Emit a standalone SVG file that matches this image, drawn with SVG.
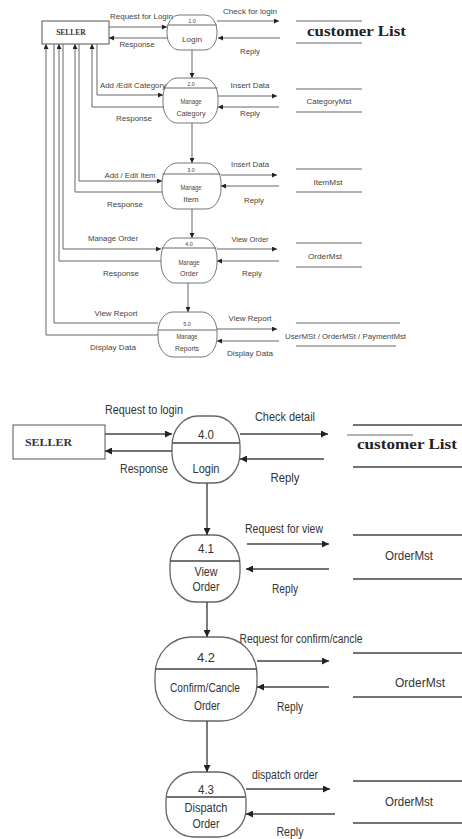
<svg xmlns="http://www.w3.org/2000/svg" width="462" height="839" viewBox="0 0 462 839">
<style>
.bg{fill:#fff}
.box{fill:#fff;stroke:#555;stroke-width:1}
.proc{fill:#fff;stroke:#777;stroke-width:1}
.proc2{fill:#fff;stroke:#666;stroke-width:1.3}
.ln{fill:none;stroke:#666;stroke-width:1}
.ln2{fill:none;stroke:#444;stroke-width:1.4}
.st{fill:none;stroke:#666;stroke-width:1.2}
.st2{fill:none;stroke:#444;stroke-width:1.4}
.t{font-family:"Liberation Sans",Arial,sans-serif;font-size:8px;fill:#444;text-anchor:middle}
.n{font-family:"Liberation Sans",Arial,sans-serif;font-size:5.5px;fill:#444;text-anchor:middle}
.t2{font-family:"Liberation Sans",Arial,sans-serif;font-size:12.5px;fill:#333;text-anchor:middle}
.n2{font-family:"Liberation Sans",Arial,sans-serif;font-size:13px;fill:#333;text-anchor:middle}
.sel{font-family:"Liberation Serif","Times New Roman",serif;font-weight:bold;fill:#333}
.cl{font-family:"Liberation Serif","Times New Roman",serif;font-weight:bold;font-size:15px;fill:#222}
</style>
<defs>
<marker id="a" viewBox="0 0 10 10" refX="10" refY="5" markerWidth="5" markerHeight="5" orient="auto" markerUnits="userSpaceOnUse"><path d="M0,0 L10,5 L0,10 z" fill="#222"/></marker>
<marker id="b" viewBox="0 0 10 10" refX="10" refY="5" markerWidth="8" markerHeight="7" orient="auto" markerUnits="userSpaceOnUse"><path d="M0,0 L10,5 L0,10 z" fill="#222"/></marker>
</defs>
<rect class="bg" x="0" y="0" width="462" height="839"/>

<!-- ============ TOP DIAGRAM ============ -->
<g id="seller1">
<rect class="box" x="42" y="21" width="67" height="23"/>
<text class="sel" x="71" y="34.5" font-size="7.5" text-anchor="middle">SELLER</text>
</g>
<g id="p1_0">
<rect class="proc" x="167" y="15" width="50" height="35" rx="12" ry="16"/>
<line class="ln" x1="167.5" y1="25" x2="216.5" y2="25"/>
<text class="n" x="192" y="22.5">1.0</text>
<text class="t" x="192" y="42" textLength="20" lengthAdjust="spacingAndGlyphs">Login</text>
</g>
<g id="p2_0">
<rect class="proc" x="163" y="78" width="55" height="45" rx="14" ry="20"/>
<line class="ln" x1="163.5" y1="88" x2="217.5" y2="88"/>
<text class="n" x="191" y="86">2.0</text>
<text class="t" x="191" y="104" textLength="21" lengthAdjust="spacingAndGlyphs">Manage</text>
<text class="t" x="191" y="116" textLength="29" lengthAdjust="spacingAndGlyphs">Category</text>
</g>
<g id="p3_0">
<rect class="proc" x="162" y="163" width="59" height="46" rx="15" ry="20"/>
<line class="ln" x1="162.5" y1="174" x2="220.5" y2="174"/>
<text class="n" x="191" y="171.5">3.0</text>
<text class="t" x="191" y="190" textLength="21" lengthAdjust="spacingAndGlyphs">Manage</text>
<text class="t" x="191" y="202">Item</text>
</g>
<g id="p4_0">
<rect class="proc" x="161" y="238" width="56" height="45" rx="14" ry="20"/>
<line class="ln" x1="161.5" y1="248" x2="216.5" y2="248"/>
<text class="n" x="189" y="246">4.0</text>
<text class="t" x="189" y="265" textLength="21" lengthAdjust="spacingAndGlyphs">Manage</text>
<text class="t" x="189" y="276" textLength="18" lengthAdjust="spacingAndGlyphs">Order</text>
</g>
<g id="p5_0">
<rect class="proc" x="158" y="312" width="59" height="45" rx="15" ry="20"/>
<line class="ln" x1="158.5" y1="330" x2="216.5" y2="330"/>
<text class="n" x="187" y="326">5.0</text>
<text class="t" x="187" y="339" textLength="21" lengthAdjust="spacingAndGlyphs">Manage</text>
<text class="t" x="187" y="351" textLength="24" lengthAdjust="spacingAndGlyphs">Reports</text>
</g>

<g id="stores1">
<line class="st" x1="296" y1="21" x2="362" y2="21"/>
<line class="st" x1="296" y1="43" x2="362" y2="43"/>
<text class="cl" x="307" y="35.5" textLength="99" lengthAdjust="spacingAndGlyphs">customer List</text>
<line class="st" x1="296" y1="89" x2="362" y2="89"/>
<line class="st" x1="296" y1="112" x2="362" y2="112"/>
<text class="t" x="329" y="104" textLength="45" lengthAdjust="spacingAndGlyphs">CategoryMst</text>
<line class="st" x1="296" y1="169" x2="362" y2="169"/>
<line class="st" x1="296" y1="192" x2="362" y2="192"/>
<text class="t" x="328" y="185" textLength="29" lengthAdjust="spacingAndGlyphs">ItemMst</text>
<line class="st" x1="296" y1="243" x2="362" y2="243"/>
<line class="st" x1="296" y1="267" x2="362" y2="267"/>
<text class="t" x="325" y="259" textLength="34" lengthAdjust="spacingAndGlyphs">OrderMst</text>
<line class="st" x1="296" y1="323" x2="400" y2="323"/>
<line class="st" x1="296" y1="346" x2="396" y2="346"/>
<text class="t" x="345.5" y="339" textLength="121" lengthAdjust="spacingAndGlyphs">UserMSt / OrderMSt / PaymentMst</text>
</g>

<g id="connectors1">
<path class="ln" d="M109,27 H167" marker-end="url(#a)"/>
<path class="ln" d="M167,38 H109" marker-end="url(#a)"/>
<path class="ln" d="M217,21 H279" marker-end="url(#a)"/>
<path class="ln" d="M280,38 H218" marker-end="url(#a)"/>
<path class="ln" d="M192,50 V78" marker-end="url(#a)"/>
<path class="ln" d="M97,44 V95 H163" marker-end="url(#a)"/>
<path class="ln" d="M164,107 H92 V44" marker-end="url(#a)"/>
<path class="ln" d="M218,96 H277" marker-end="url(#a)"/>
<path class="ln" d="M279,107 H218" marker-end="url(#a)"/>
<path class="ln" d="M192,123 V163" marker-end="url(#a)"/>
<path class="ln" d="M79,44 V181 H162" marker-end="url(#a)"/>
<path class="ln" d="M162,192 H75 V44" marker-end="url(#a)"/>
<path class="ln" d="M221,175 H277" marker-end="url(#a)"/>
<path class="ln" d="M279,186 H221" marker-end="url(#a)"/>
<path class="ln" d="M192,209 V238" marker-end="url(#a)"/>
<path class="ln" d="M63,44 V249 H161" marker-end="url(#a)"/>
<path class="ln" d="M161,261 H59 V44" marker-end="url(#a)"/>
<path class="ln" d="M217,249 H277" marker-end="url(#a)"/>
<path class="ln" d="M279,261 H217" marker-end="url(#a)"/>
<path class="ln" d="M188,283 V312" marker-end="url(#a)"/>
<path class="ln" d="M54,44 V323 H158"/>
<path class="ln" d="M158,335 H46 V44" marker-end="url(#a)"/>
<path class="ln" d="M217,329 H277" marker-end="url(#a)"/>
<path class="ln" d="M279,341 H217" marker-end="url(#a)"/>
<text class="t" x="141.5" y="19" textLength="63" lengthAdjust="spacingAndGlyphs">Request for Login</text>
<text class="t" x="137" y="47" textLength="35" lengthAdjust="spacingAndGlyphs">Response</text>
<text class="t" x="250" y="14" textLength="54" lengthAdjust="spacingAndGlyphs">Check for login</text>
<text class="t" x="250" y="54" textLength="20" lengthAdjust="spacingAndGlyphs">Reply</text>
<text class="t" x="133" y="88" textLength="66" lengthAdjust="spacingAndGlyphs">Add /Edit Category</text>
<text class="t" x="134" y="121" textLength="36" lengthAdjust="spacingAndGlyphs">Response</text>
<text class="t" x="250" y="88" textLength="39" lengthAdjust="spacingAndGlyphs">Insert Data</text>
<text class="t" x="250" y="116" textLength="20" lengthAdjust="spacingAndGlyphs">Reply</text>
<text class="t" x="130" y="178" textLength="51" lengthAdjust="spacingAndGlyphs">Add / Edit Item</text>
<text class="t" x="125" y="207" textLength="36" lengthAdjust="spacingAndGlyphs">Response</text>
<text class="t" x="250" y="167" textLength="38" lengthAdjust="spacingAndGlyphs">Insert Data</text>
<text class="t" x="254" y="203" textLength="20" lengthAdjust="spacingAndGlyphs">Reply</text>
<text class="t" x="113" y="241" textLength="50" lengthAdjust="spacingAndGlyphs">Manage Order</text>
<text class="t" x="121" y="276" textLength="36" lengthAdjust="spacingAndGlyphs">Response</text>
<text class="t" x="250" y="242" textLength="37" lengthAdjust="spacingAndGlyphs">View Order</text>
<text class="t" x="252" y="276" textLength="20" lengthAdjust="spacingAndGlyphs">Reply</text>
<text class="t" x="116" y="316" textLength="43" lengthAdjust="spacingAndGlyphs">View Report</text>
<text class="t" x="113" y="350" textLength="46" lengthAdjust="spacingAndGlyphs">Display Data</text>
<text class="t" x="250" y="321" textLength="43" lengthAdjust="spacingAndGlyphs">View Report</text>
<text class="t" x="250" y="356" textLength="46" lengthAdjust="spacingAndGlyphs">Display Data</text>
</g>

<!-- ============ BOTTOM DIAGRAM ============ -->
<g id="seller2">
<rect class="box" x="13" y="425" width="92" height="34" stroke-width="1.3"/>
<text class="sel" x="25" y="446" font-size="10" textLength="47" lengthAdjust="spacingAndGlyphs">SELLER</text>
</g>
<g id="p4_0b">
<rect class="proc2" x="172" y="416" width="68" height="67" rx="26" ry="30"/>
<line class="ln2" x1="172.5" y1="443" x2="239.5" y2="443"/>
<text class="n2" x="206" y="439" textLength="16" lengthAdjust="spacingAndGlyphs">4.0</text>
<text class="t2" x="206" y="473" textLength="27" lengthAdjust="spacingAndGlyphs">Login</text>
</g>
<g id="p4_1">
<rect class="proc2" x="170" y="535" width="70" height="67" rx="26" ry="30"/>
<line class="ln2" x1="170.5" y1="561" x2="239.5" y2="561"/>
<text class="n2" x="206" y="553" textLength="16" lengthAdjust="spacingAndGlyphs">4.1</text>
<text class="t2" x="206" y="576" textLength="23" lengthAdjust="spacingAndGlyphs">View</text>
<text class="t2" x="206" y="591" textLength="27" lengthAdjust="spacingAndGlyphs">Order</text>
</g>
<g id="p4_2">
<rect class="proc2" x="155" y="637" width="102" height="84" rx="36" ry="38"/>
<line class="ln2" x1="155.5" y1="669" x2="256.5" y2="669"/>
<text class="n2" x="206" y="662" font-size="14" textLength="18" lengthAdjust="spacingAndGlyphs">4.2</text>
<text class="t2" x="205" y="692" textLength="70" lengthAdjust="spacingAndGlyphs">Confirm/Cancle</text>
<text class="t2" x="207" y="710" textLength="26" lengthAdjust="spacingAndGlyphs">Order</text>
</g>
<g id="p4_3">
<rect class="proc2" x="166" y="772" width="80" height="65" rx="28" ry="28"/>
<line class="ln2" x1="166.5" y1="797" x2="245.5" y2="797"/>
<text class="n2" x="206" y="794" textLength="16" lengthAdjust="spacingAndGlyphs">4.3</text>
<text class="t2" x="206" y="812" textLength="43" lengthAdjust="spacingAndGlyphs">Dispatch</text>
<text class="t2" x="206" y="828" textLength="27" lengthAdjust="spacingAndGlyphs">Order</text>
</g>

<g id="stores2">
<line class="st2" x1="353" y1="425" x2="462" y2="425"/>
<line class="st" x1="347" y1="435" x2="413" y2="435" stroke="#999"/>
<line class="st2" x1="353" y1="467" x2="462" y2="467"/>
<text class="cl" x="357" y="449" textLength="100" lengthAdjust="spacingAndGlyphs">customer List</text>
<line class="st2" x1="353" y1="535" x2="462" y2="535"/>
<line class="st2" x1="353" y1="579" x2="462" y2="579"/>
<text class="t2" x="409" y="560" font-size="13" textLength="48" lengthAdjust="spacingAndGlyphs">OrderMst</text>
<line class="st2" x1="353" y1="653" x2="462" y2="653"/>
<line class="st2" x1="353" y1="697" x2="462" y2="697"/>
<text class="t2" x="420" y="687" font-size="14" textLength="50" lengthAdjust="spacingAndGlyphs">OrderMst</text>
<line class="st2" x1="353" y1="781" x2="462" y2="781"/>
<line class="st2" x1="353" y1="823" x2="462" y2="823"/>
<text class="t2" x="409" y="806" font-size="13" textLength="48" lengthAdjust="spacingAndGlyphs">OrderMst</text>
</g>

<g id="connectors2">
<path class="ln2" d="M105,434 H172" marker-end="url(#b)"/>
<path class="ln2" d="M172,451 H105" marker-end="url(#b)"/>
<path class="ln2" d="M240,434 H328" marker-end="url(#b)"/>
<path class="ln2" d="M324,459 H240" marker-end="url(#b)"/>
<path class="ln2" d="M207,483 V535" marker-end="url(#b)"/>
<path class="ln2" d="M247,544 H329" marker-end="url(#b)"/>
<path class="ln2" d="M329,569 H246" marker-end="url(#b)"/>
<path class="ln2" d="M207,602 V637" marker-end="url(#b)"/>
<path class="ln2" d="M257,661 H329" marker-end="url(#b)"/>
<path class="ln2" d="M329,687 H257" marker-end="url(#b)"/>
<path class="ln2" d="M207,721 V772" marker-end="url(#b)"/>
<path class="ln2" d="M246,789 H330" marker-end="url(#b)"/>
<path class="ln2" d="M335,814 H246" marker-end="url(#b)"/>
<text class="t2" x="144" y="414" textLength="78" lengthAdjust="spacingAndGlyphs">Request to login</text>
<text class="t2" x="144" y="473" textLength="48" lengthAdjust="spacingAndGlyphs">Response</text>
<text class="t2" x="285" y="421" textLength="60" lengthAdjust="spacingAndGlyphs">Check detail</text>
<text class="t2" x="285" y="482" textLength="29" lengthAdjust="spacingAndGlyphs">Reply</text>
<text class="t2" x="284" y="533" textLength="78" lengthAdjust="spacingAndGlyphs">Request for view</text>
<text class="t2" x="285" y="593" textLength="26" lengthAdjust="spacingAndGlyphs">Reply</text>
<text class="t2" x="301" y="643" textLength="123" lengthAdjust="spacingAndGlyphs">Request for confirm/cancle</text>
<text class="t2" x="290" y="711" textLength="26" lengthAdjust="spacingAndGlyphs">Reply</text>
<text class="t2" x="285" y="779" textLength="66" lengthAdjust="spacingAndGlyphs">dispatch order</text>
<text class="t2" x="290" y="836" textLength="27" lengthAdjust="spacingAndGlyphs">Reply</text>
</g>
</svg>
